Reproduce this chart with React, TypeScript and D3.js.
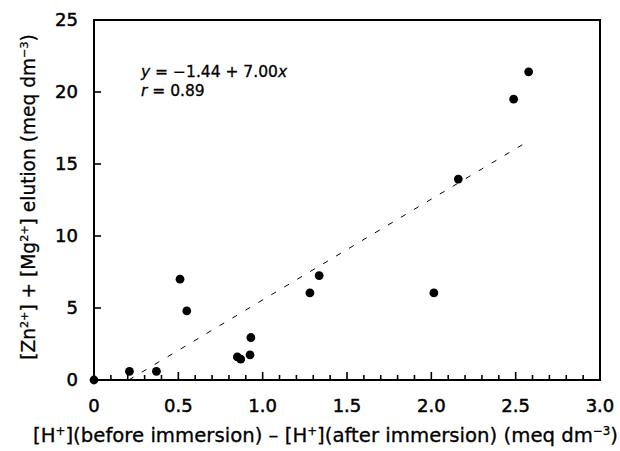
import React, { useEffect, useRef } from "react";
import * as d3 from "d3";

// measured points
const hDiff = [0, 0.21, 0.37, 0.51, 0.55, 0.85, 0.87, 0.925, 0.93, 1.28, 1.335, 2.015, 2.16, 2.488, 2.577];
const elution = [0, 0.6, 0.6, 7.0, 4.8, 1.6, 1.45, 1.75, 2.95, 6.05, 7.25, 6.05, 13.95, 19.5, 21.4];

// regression  y = a + b x
const fitA = -1.44;
const fitB = 7.0;
const fitRange = [0.206, 2.55];

const xTickValues = [0, 0.5, 1.0, 1.5, 2.0, 2.5, 3.0];
const xTickLabels = ["0", "0.5", "1.0", "1.5", "2.0", "2.5", "3.0"];
const yTickValues = [0, 5, 10, 15, 20, 25];

const FONT = "'DejaVu Sans', sans-serif";

const App: React.FC = () => {
  const svgRef = useRef<SVGSVGElement | null>(null);

  useEffect(() => {
    if (!svgRef.current) return;
    const svg = d3.select(svgRef.current);
    svg.selectAll("*").remove();

    const left = 94;
    const right = 600;
    const top = 20;
    const bottom = 380;

    const x = d3.scaleLinear().domain([0, 3]).range([left, right]);
    const y = d3.scaleLinear().domain([0, 25]).range([bottom, top]);

    // frame
    svg
      .append("rect")
      .attr("x", left)
      .attr("y", top)
      .attr("width", right - left)
      .attr("height", bottom - top)
      .attr("fill", "none")
      .attr("stroke", "#000")
      .attr("stroke-width", 2);

    // x ticks (inward), minor every 0.1
    const xMinor = d3.range(0, 31).map((i) => i / 10);
    svg
      .append("g")
      .selectAll("line")
      .data(xMinor)
      .enter()
      .append("line")
      .attr("x1", (d) => x(d))
      .attr("x2", (d) => x(d))
      .attr("y1", bottom)
      .attr("y2", (d, i) => bottom - (i % 5 === 0 ? 8 : 5))
      .attr("stroke", "#000")
      .attr("stroke-width", 1.6);

    // y ticks (inward)
    svg
      .append("g")
      .selectAll("line")
      .data(yTickValues)
      .enter()
      .append("line")
      .attr("x1", left)
      .attr("x2", left + 7)
      .attr("y1", (d) => y(d))
      .attr("y2", (d) => y(d))
      .attr("stroke", "#000")
      .attr("stroke-width", 1.6);

    // x tick labels
    svg
      .append("g")
      .selectAll("text")
      .data(xTickValues)
      .enter()
      .append("text")
      .attr("x", (d) => x(d))
      .attr("y", 412)
      .attr("text-anchor", "middle")
      .attr("font-family", FONT)
      .attr("font-size", 18)
      .attr("stroke", "#000")
      .attr("stroke-width", 0.5)
      .text((d, i) => xTickLabels[i]);

    // y tick labels
    svg
      .append("g")
      .selectAll("text")
      .data(yTickValues)
      .enter()
      .append("text")
      .attr("x", 78)
      .attr("y", (d) => y(d))
      .attr("dy", "0.36em")
      .attr("text-anchor", "end")
      .attr("font-family", FONT)
      .attr("font-size", 18)
      .attr("stroke", "#000")
      .attr("stroke-width", 0.5)
      .text((d) => d.toString());

    // regression line
    const line = d3
      .line<number>()
      .x((d) => x(d))
      .y((d) => y(fitA + fitB * d));
    svg
      .append("path")
      .datum(fitRange)
      .attr("fill", "none")
      .attr("stroke", "#000")
      .attr("stroke-width", 1)
      .attr("stroke-dasharray", "5.5,9.6")
      .attr("d", line);

    // points
    svg
      .append("g")
      .selectAll("circle")
      .data(hDiff)
      .enter()
      .append("circle")
      .attr("cx", (d) => x(d))
      .attr("cy", (d, i) => y(elution[i]))
      .attr("r", 4.4)
      .attr("fill", "#000");

    // equation
    const eq = svg
      .append("text")
      .attr("x", 141)
      .attr("y", 77)
      .attr("font-family", FONT)
      .attr("font-size", 15.5)
      .attr("stroke", "#000")
      .attr("stroke-width", 0.3);
    eq.append("tspan").attr("font-style", "italic").text("y");
    eq.append("tspan").text(" = \u22121.44 + 7.00");
    eq.append("tspan").attr("font-style", "italic").text("x");

    const rr = svg
      .append("text")
      .attr("x", 141)
      .attr("y", 96)
      .attr("font-family", FONT)
      .attr("font-size", 15.5)
      .attr("stroke", "#000")
      .attr("stroke-width", 0.3);
    rr.append("tspan").attr("font-style", "italic").text("r");
    rr.append("tspan").text(" = 0.89");

    // text with superscripts; the raise is undone on the next part
    const addParts = (
      sel: d3.Selection<SVGTextElement, unknown, null, undefined>,
      parts: [string, boolean][]
    ) => {
      let back = 0;
      parts.forEach(([t, sup]) => {
        if (sup) {
          sel.append("tspan").attr("dy", -7 + back).attr("font-size", "0.6em").text(t);
          back = 7;
        } else {
          sel.append("tspan").attr("dy", back).text(t);
          back = 0;
        }
      });
    };

    // x title
    const xt = svg
      .append("text")
      .attr("x", 33)
      .attr("y", 442)
      .attr("font-family", FONT)
      .attr("font-size", 19.7)
      .attr("stroke", "#000")
      .attr("stroke-width", 0.3);
    addParts(xt, [
      ["[H", false],
      ["+", true],
      ["](before immersion) \u2013 [H", false],
      ["+", true],
      ["](after immersion) (meq dm", false],
      ["\u22123", true],
      [")", false],
    ]);

    // y title
    const yt = svg
      .append("text")
      .attr("transform", "translate(35,197) rotate(-90)")
      .attr("text-anchor", "middle")
      .attr("font-family", FONT)
      .attr("font-size", 18.6)
      .attr("stroke", "#000")
      .attr("stroke-width", 0.3);
    addParts(yt, [
      ["[Zn", false],
      ["2+", true],
      ["] + [Mg", false],
      ["2+", true],
      ["] elution (meq dm", false],
      ["\u22123", true],
      [")", false],
    ]);
  }, []);

  return (
    <div style={{ position: "absolute", left: 0, top: 0 }}>
      <svg ref={svgRef} width={620} height={451} style={{ display: "block", background: "#fff" }} />
    </div>
  );
};

export default App;
